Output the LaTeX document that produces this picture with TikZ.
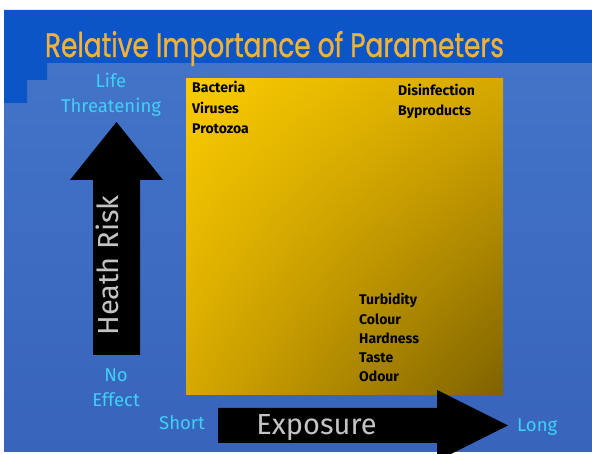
\documentclass[tikz,border=0pt]{standalone}
\usepackage{fontspec}
\setmainfont{Fira Sans}
\newfontfamily\titlefont[FakeBold=1]{Poppins}
\usetikzlibrary{positioning, shadings}
\definecolor{titleblue}{HTML}{0C55C6}
\definecolor{bgtop}{HTML}{4274C8}
\definecolor{bgbottom}{HTML}{3864BB}
\definecolor{titlegold}{HTML}{F0B23A}
\definecolor{labelcyan}{HTML}{3FD0F6}
\definecolor{arrowgray}{HTML}{C4C4C4}
\definecolor{goldlight}{HTML}{FACB00}
\definecolor{goldmid}{HTML}{D6A800}
\definecolor{golddark}{HTML}{7E6200}
\tikzset{
	axislabel/.style={text=labelcyan, font=\fontsize{18.5}{20}\selectfont, inner sep=0pt, text height=13pt, text depth=3pt},
	item/.style={text=black, font=\fontsize{14}{16}\selectfont\bfseries, inner sep=0pt, text height=10pt, text depth=3pt},
	arrowtext/.style={text=arrowgray, font=\fontsize{29}{31}\selectfont, inner sep=0pt},
	bigarrow/.style={fill=black},
}
\begin{document}
\begin{tikzpicture}[x=1pt,y=1pt]
	\useasboundingbox (0,0) rectangle (592,454);
	\clip (0,0) rectangle (592,454);
	% slide background
	\fill[white] (0,0) rectangle (592,454);
	\shade[top color=bgtop, bottom color=bgbottom] (4,2) rectangle (592,391);
	\fill[titleblue] (4,444) -- (592,444) -- (592,391) -- (47,391) -- (47,374) -- (27,374) -- (27,351) -- (4,351) -- cycle;
	\node[text=titlegold, font=\titlefont\fontsize{34}{36}\selectfont, anchor=base, inner sep=0pt, xscale=0.775] (title) at (274.5,397) {Relative Importance of Parameters};

	% panel
	\node[shade, upper left=goldlight, upper right=goldmid, lower left=goldmid, lower right=golddark, minimum width=317pt, minimum height=316pt, inner sep=0pt] (panel) at (344.5,217) {};

	% microbes
	\node[item, anchor=base west] (bacteria) at (192,361) {Bacteria};
	\node[item, below=7pt of bacteria.south west, anchor=north west] (viruses) {Viruses};
	\node[item, below=7pt of viruses.south west, anchor=north west] (protozoa) {Protozoa};
	% by-products
	\node[item, anchor=base west] (disinf) at (398,358) {Disinfection};
	\node[item, below=6pt of disinf.south west, anchor=north west] (byprod) {Byproducts};
	% aesthetic
	\node[item, anchor=base west] (turbidity) at (359,149) {Turbidity};
	\node[item, below=5.75pt of turbidity.south west, anchor=north west] (colour) {Colour};
	\node[item, below=5.75pt of colour.south west, anchor=north west] (hardness) {Hardness};
	\node[item, below=5.75pt of hardness.south west, anchor=north west] (taste) {Taste};
	\node[item, below=5.75pt of taste.south west, anchor=north west] (odour) {Odour};

	% health risk arrow
	\fill[bigarrow] (93,99) -- (140,99) -- (140,274) -- (163,274) -- (116.5,332) -- (70,274) -- (93,274) -- cycle;
	\node[arrowtext, rotate=90, anchor=base] (risk) at (118,188.5) {Heath Risk};
	\node[axislabel, anchor=base] (life) at (111,366) {Life};
	\node[axislabel, below=8pt of life] (threat) {Threatening};
	\node[axislabel, anchor=base] (noeffect) at (116,72) {No};
	\node[axislabel, below=8pt of noeffect] (effect) {Effect};

	% exposure arrow
	\fill[bigarrow] (218,46) -- (437,46) -- (437,64) -- (508,28.5) -- (437,-7) -- (437,11) -- (218,11) -- cycle;
	\node[arrowtext, anchor=base] (exposure) at (316.5,19) {Exposure};
	\node[axislabel, anchor=base west] (short) at (159,24) {Short};
	\node[axislabel, anchor=base west] (long) at (517,22) {Long};
\end{tikzpicture}
\end{document}
